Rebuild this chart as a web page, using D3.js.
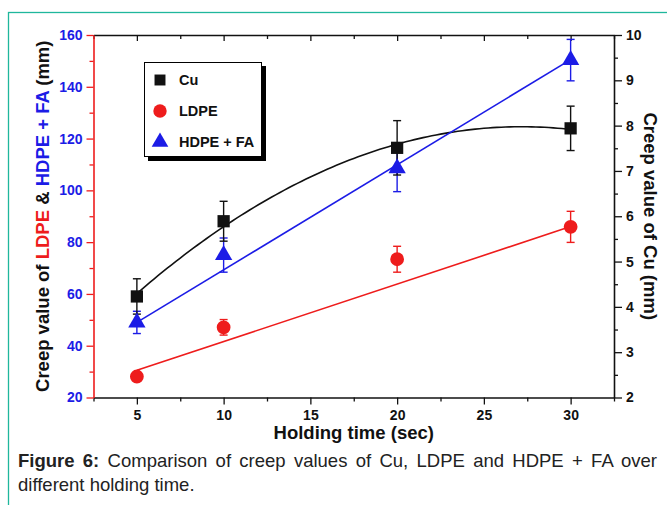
<!DOCTYPE html>
<html>
<head>
<meta charset="utf-8">
<script src="https://cdn.jsdelivr.net/npm/d3@7"></script>
<style>
  body { margin: 0; background: #fff; }
  svg { display: block; }
  text { font-family: "Liberation Sans", Arial, Helvetica, sans-serif; }
</style>
</head>
<body>
<svg id="chart" width="667" height="505"></svg>
<script>
// Holding time (s) and creep values per material
const holdingTimes = [5, 10, 20, 30];
const cuCreep   = [4.23, 5.89, 7.51, 7.94];   // right axis (mm)
const cuError   = [0.39, 0.44, 0.60, 0.49];
const ldpeCreep = [28.1, 47.1, 73.4, 85.9];   // left axis (mm)
const ldpeError = [1.0, 3.0, 5.0, 6.0];
const hdpeCreep = [49.0, 75.0, 108.5, 150.3]; // left axis (mm)
const hdpeError = [4.3, 6.6, 9.0, 8.0];

// Linear trend lines, value at each end of the time range
const fitTimes = [5, 30];
const ldpeFit  = [30.5, 86.0];
const hdpeFit  = [49.0, 150.5];

// Axis tick values
const xMajorTicks = [5, 10, 15, 20, 25, 30];
const leftMajorTicks = [20, 40, 60, 80, 100, 120, 140, 160];
const rightMajorTicks = [2, 3, 4, 5, 6, 7, 8, 9, 10];

const legendItems = ["Cu", "LDPE", "HDPE + FA"];

const COLORS = { cu: "#111111", ldpe: "#ee1c1c", hdpe: "#1c1ce6", teal: "#1fb79c" };

const svg = d3.select("#chart");
const plot = { left: 93.5, right: 614, top: 35, bottom: 397.5 };

const x = d3.scaleLinear().domain([2.5, 32.5]).range([plot.left, plot.right]);
const yL = d3.scaleLinear().domain([20, 160]).range([plot.bottom, plot.top]);
const yR = d3.scaleLinear().domain([2, 10]).range([plot.bottom, plot.top]);

// Page frame
svg.append("rect").attr("width", 667).attr("height", 505).attr("fill", "#fff");
svg.append("rect")
  .attr("x", 8.5).attr("y", 12.5).attr("width", 700).attr("height", 600)
  .attr("fill", "none").attr("stroke", COLORS.teal).attr("stroke-width", 1.3);

// Axes: major ticks long, minor ticks short
function styleTicks(g, majors, majorLen, minorLen, dir, color) {
  g.selectAll(".tick").each(function(d) {
    const isMajor = majors.some(m => Math.abs(m - d) < 1e-6);
    const line = d3.select(this).select("line");
    const len = isMajor ? majorLen : minorLen;
    if (dir === "x") line.attr("y2", len); else line.attr("x2", len);
    line.attr("stroke", color).attr("stroke-width", 1.3);
    if (!isMajor) d3.select(this).select("text").remove();
  });
  g.select(".domain").attr("stroke", color).attr("stroke-width", 1.6);
}

const xAll = d3.range(2.5, 32.51, 2.5);

// bottom axis
const gx = svg.append("g").attr("transform", `translate(0,${plot.bottom})`)
  .call(d3.axisBottom(x).tickValues(xAll).tickSizeOuter(0).tickPadding(7)
    .tickFormat(d => xMajorTicks.includes(d) ? d : ""));
styleTicks(gx, xMajorTicks, 7, 4, "x", "#111");
gx.selectAll("text").attr("font-size", 14).attr("font-weight", "bold").attr("fill", "#111");

// top axis, ticks pointing inward
const gt = svg.append("g").attr("transform", `translate(0,${plot.top})`)
  .call(d3.axisBottom(x).tickValues(xAll).tickSizeOuter(0).tickFormat(""));
styleTicks(gt, xMajorTicks, 6, 4, "x", "#111");

const leftAll = d3.range(20, 160.1, 10);
const gl = svg.append("g").attr("transform", `translate(${plot.left},0)`)
  .call(d3.axisLeft(yL).tickValues(leftAll).tickSizeOuter(0).tickPadding(5)
    .tickFormat(d => leftMajorTicks.includes(d) ? d : ""));
styleTicks(gl, leftMajorTicks, -7, -4, "y", COLORS.ldpe);
gl.selectAll("text").attr("font-size", 14).attr("font-weight", "bold").attr("fill", COLORS.hdpe);

const rightAll = d3.range(2, 10.01, 0.5);
const gr = svg.append("g").attr("transform", `translate(${plot.right},0)`)
  .call(d3.axisRight(yR).tickValues(rightAll).tickSizeOuter(0).tickPadding(6)
    .tickFormat(d => rightMajorTicks.includes(d) ? d : ""));
styleTicks(gr, rightMajorTicks, 8, 4, "y", "#111");
gr.selectAll("text").attr("font-size", 14).attr("font-weight", "bold").attr("fill", "#111");

// Axis titles
svg.append("text")
  .attr("x", (plot.left + plot.right) / 2).attr("y", 439)
  .attr("text-anchor", "middle").attr("font-size", 18.5).attr("font-weight", "bold")
  .attr("fill", "#111").text("Holding time (sec)");

const leftTitle = svg.append("text")
  .attr("transform", `translate(49,${(plot.top + plot.bottom) / 2}) rotate(-90)`)
  .attr("text-anchor", "middle").attr("font-size", 18.5).attr("font-weight", "bold")
  .attr("fill", "#111");
[["Creep value of ", "#111"], ["LDPE", COLORS.ldpe], [" & ", "#111"],
 ["HDPE + FA", COLORS.hdpe], [" (mm)", "#111"]].forEach(([t, c]) =>
  leftTitle.append("tspan").attr("fill", c).text(t));

svg.append("text")
  .attr("transform", `translate(644,${(plot.top + plot.bottom) / 2}) rotate(90)`)
  .attr("text-anchor", "middle").attr("font-size", 18.5).attr("font-weight", "bold")
  .attr("fill", "#111").text("Creep value of Cu (mm)");

// Quadratic least-squares trend for Cu
function quadFit(xs, ys) {
  const n = xs.length;
  const s = k => d3.sum(xs, v => Math.pow(v, k));
  const sy = k => d3.sum(xs, (v, i) => Math.pow(v, k) * ys[i]);
  const A = [[n, s(1), s(2)], [s(1), s(2), s(3)], [s(2), s(3), s(4)]];
  const B = [sy(0), sy(1), sy(2)];
  for (let i = 0; i < 3; i++) {
    for (let j = i + 1; j < 3; j++) {
      const f = A[j][i] / A[i][i];
      for (let k = i; k < 3; k++) A[j][k] -= f * A[i][k];
      B[j] -= f * B[i];
    }
  }
  const c = [0, 0, 0];
  for (let i = 2; i >= 0; i--) {
    let acc = B[i];
    for (let k = i + 1; k < 3; k++) acc -= A[i][k] * c[k];
    c[i] = acc / A[i][i];
  }
  return t => c[0] + c[1] * t + c[2] * t * t;
}
const cuTrend = quadFit(holdingTimes, cuCreep);
const cuCurve = d3.range(5, 30.001, 0.25).map(t => [t, cuTrend(t)]);

const lineR = d3.line().x(d => x(d[0])).y(d => yR(d[1]));
const lineL = d3.line().x(d => x(d[0])).y(d => yL(d[1]));

svg.append("path").datum(cuCurve).attr("d", lineR)
  .attr("fill", "none").attr("stroke", COLORS.cu).attr("stroke-width", 1.6);
svg.append("path").datum(fitTimes.map((t, i) => [t, ldpeFit[i]])).attr("d", lineL)
  .attr("fill", "none").attr("stroke", COLORS.ldpe).attr("stroke-width", 1.6);
svg.append("path").datum(fitTimes.map((t, i) => [t, hdpeFit[i]])).attr("d", lineL)
  .attr("fill", "none").attr("stroke", COLORS.hdpe).attr("stroke-width", 1.6);

// Error bars
function errorBars(vals, errs, yScale, color) {
  const g = svg.append("g").attr("stroke", color).attr("stroke-width", 1.4);
  holdingTimes.forEach((t, i) => {
    const cx = x(t), y1 = yScale(vals[i] + errs[i]), y2 = yScale(vals[i] - errs[i]);
    g.append("line").attr("x1", cx).attr("x2", cx).attr("y1", y1).attr("y2", y2);
    g.append("line").attr("x1", cx - 4).attr("x2", cx + 4).attr("y1", y1).attr("y2", y1);
    g.append("line").attr("x1", cx - 4).attr("x2", cx + 4).attr("y1", y2).attr("y2", y2);
  });
}
errorBars(hdpeCreep, hdpeError, yL, COLORS.hdpe);
errorBars(ldpeCreep, ldpeError, yL, COLORS.ldpe);
errorBars(cuCreep, cuError, yR, COLORS.cu);

// Markers
const sym = {
  cu: d3.symbol().type(d3.symbolSquare).size(150),
  ldpe: d3.symbol().type(d3.symbolCircle).size(150),
  hdpe: d3.symbol().type(d3.symbolTriangle).size(130)
};
svg.append("g").selectAll("path").data(holdingTimes).join("path")
  .attr("d", sym.hdpe).attr("fill", COLORS.hdpe)
  .attr("transform", (t, i) => `translate(${x(t)},${yL(hdpeCreep[i])})`);
svg.append("g").selectAll("path").data(holdingTimes).join("path")
  .attr("d", sym.ldpe).attr("fill", COLORS.ldpe)
  .attr("transform", (t, i) => `translate(${x(t)},${yL(ldpeCreep[i])})`);
svg.append("g").selectAll("path").data(holdingTimes).join("path")
  .attr("d", sym.cu).attr("fill", COLORS.cu)
  .attr("transform", (t, i) => `translate(${x(t)},${yR(cuCreep[i])})`);

// Legend with drop shadow
const lg = svg.append("g").attr("transform", "translate(144,62)");
lg.append("rect").attr("x", 4).attr("y", 4).attr("width", 118).attr("height", 95).attr("fill", "#000");
lg.append("rect").attr("x", 0.5).attr("y", 0.5).attr("width", 117).attr("height", 94)
  .attr("fill", "#fff").attr("stroke", "#000").attr("stroke-width", 1);
const legendSyms = [
  [d3.symbol().type(d3.symbolSquare).size(120), COLORS.cu],
  [d3.symbol().type(d3.symbolCircle).size(140), COLORS.ldpe],
  [d3.symbol().type(d3.symbolTriangle).size(120), COLORS.hdpe]
];
legendItems.forEach((name, i) => {
  const yy = 18 + i * 31;
  lg.append("path").attr("d", legendSyms[i][0]()).attr("fill", legendSyms[i][1])
    .attr("transform", `translate(16,${yy})`);
  lg.append("text").attr("x", 35).attr("y", yy + 5).attr("font-size", 14.5)
    .attr("font-weight", "bold").attr("fill", "#111").text(name);
});

// Caption, first line justified to the frame width
const captionBold = "Figure 6:";
const captionRest = " Comparison of creep values of Cu, LDPE and HDPE + FA over";
const cap1 = svg.append("text").attr("x", 18).attr("y", 467).attr("font-size", 18.5).attr("fill", "#222");
cap1.append("tspan").attr("font-weight", "bold").text(captionBold);
cap1.append("tspan").text(captionRest);
const natural = cap1.node().getComputedTextLength();
const gaps = (captionBold + captionRest).split(" ").length - 1;
const target = 639;
if (natural < target) cap1.attr("word-spacing", (target - natural) / gaps);
svg.append("text").attr("x", 18).attr("y", 491).attr("font-size", 18.5).attr("fill", "#222")
  .text("different holding time.");
</script>
</body>
</html>
